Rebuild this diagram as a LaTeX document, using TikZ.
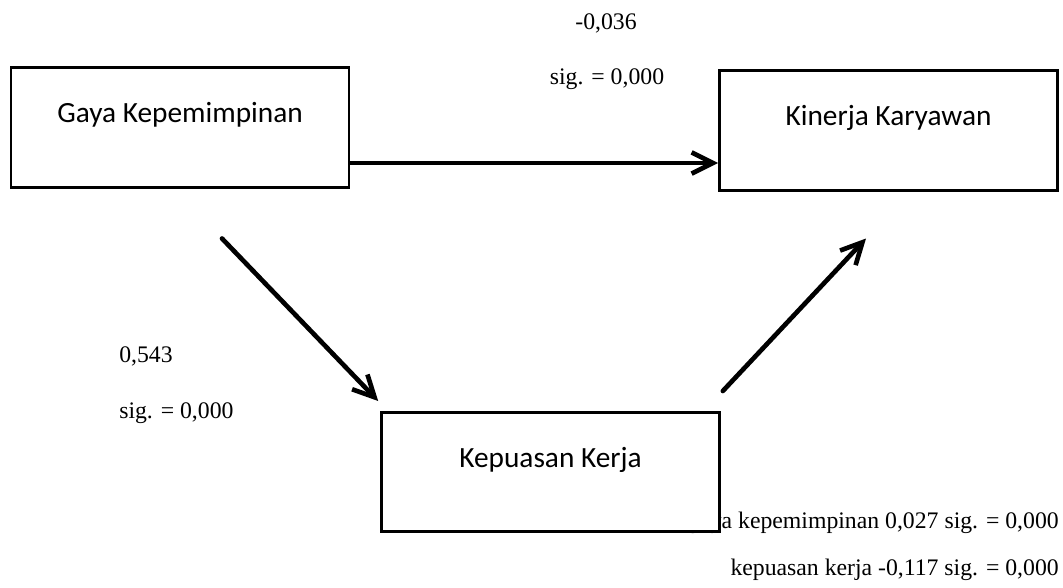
\documentclass[tikz,border=0pt]{standalone}
\usepackage{fontspec}
\setmainfont{Liberation Serif}
\newfontfamily\boxfont{Carlito}
\usetikzlibrary{arrows.meta, calc}

\begin{document}
\begin{tikzpicture}[x=0.75pt, y=-0.75pt,
	box/.style = {draw, line width=2pt, fill=white, inner sep=0pt,
		minimum width=253.5pt, minimum height=89.5pt, text depth=22pt,
		font=\boxfont\fontsize{22}{26}\selectfont},
	coef/.style = {inner sep=0pt, font=\fontsize{17.8}{21}\selectfont},
	arw/.style = {line width=3.5pt, line cap=round,
		-{Straight Barb[length=16pt, width=16pt]}}]
				\useasboundingbox (0,0) rectangle (1063,588);
				
				\node (c1) at (606,30)[coef, anchor=base]{-0,036};
				\node (s1) at (607,85)[coef, anchor=base]{sig. = 0,000};
				\node (c2) at (119,362)[coef, anchor=base west]{0,543};
				\node (s2) at (119,418)[coef, anchor=base west]{sig. = 0,000};
				\node (c3) at (1059,528)[coef, anchor=base east]{gaya kepemimpinan 0,027 sig. = 0,000};
				\node (c4) at (1059,575)[coef, anchor=base east]{kepuasan kerja -0,117 sig. = 0,000};
				
				\node (GK) at (180,127.5)[box]{Gaya Kepemimpinan};
				\node (KK) at (888.5,130.5)[box]{Kinerja Karyawan};
				\node (KP) at (550.5,472)[box]{Kepuasan Kerja};
				
				\draw[arw] ($(GK.east)+(0,35.5)$) -- ($(KK.west)+(0,32.5)$);
				\draw[arw] ($(GK.south)+(42,50)$) -- ($(KP.north west)+(-2,-10)$);
				\draw[arw] ($(KP.north east)+(2,-20)$) -- ($(KK.south)+(-22.5,47)$);
			\end{tikzpicture}
\end{document}
